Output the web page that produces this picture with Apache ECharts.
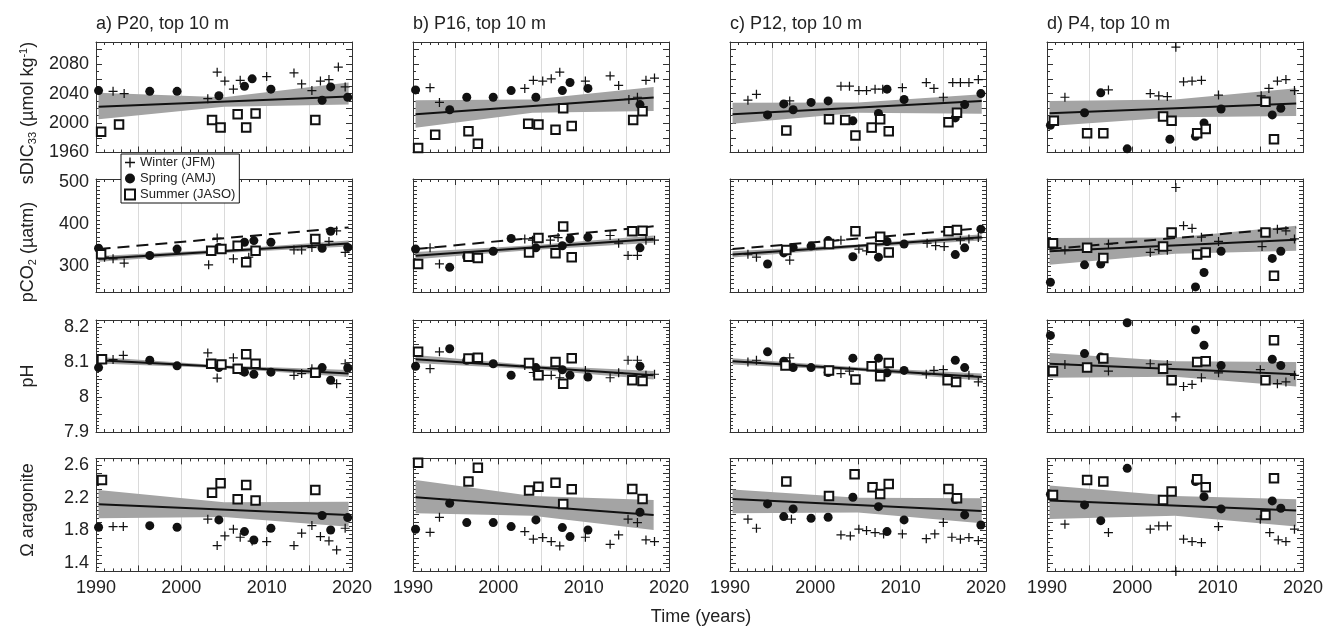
<!DOCTYPE html>
<html><head><meta charset="utf-8">
<script src="https://cdn.jsdelivr.net/npm/echarts@6/dist/echarts.min.js"></script>
<style>html,body{margin:0;padding:0;background:#fff}#c{width:1338px;height:633px}</style>
</head><body><div id="c"></div><script>
// ---------- DATA: [year, value] ----------
// Panel a) P20
const a_dic_winter=[[1992.0,2043],[1993.3,2040],[2003.1,2033],[2004.2,2069],[2005.1,2057],[2006.1,2046],[2006.9,2058],[2010.0,2063],[2013.2,2068],[2014.1,2053],[2015.3,2044],[2016.3,2057],[2017.3,2059],[2018.4,2076],[2019.2,2049]];
const a_dic_spring=[[1990.3,2044],[1996.3,2043],[1999.5,2043],[2004.4,2037],[2007.4,2050],[2008.3,2060],[2010.5,2046],[2016.5,2031],[2017.5,2049],[2019.5,2035]];
const a_dic_summer=[[1990.6,1988],[1992.7,1998],[2003.6,2004],[2004.6,1994],[2006.6,2012],[2007.6,1994],[2008.7,2013],[2015.7,2004]];
const a_pco2_winter=[[1991.0,322],[1992.0,318],[1993.3,308],[2003.2,304],[2004.2,367],[2006.1,318],[2007.9,322],[2013.2,339],[2014.1,339],[2015.3,345],[2017.3,359],[2018.2,384],[2019.2,333]];
const a_pco2_spring=[[1990.3,343],[1996.3,326],[1999.5,341],[2004.4,345],[2007.4,357],[2008.5,361],[2010.5,357],[2016.5,343],[2017.5,383],[2019.5,345]];
const a_pco2_summer=[[1990.6,329],[2003.5,337],[2004.7,341],[2006.6,349],[2007.6,310],[2008.7,337],[2015.7,365]];
const a_ph_winter=[[1992.0,8.107],[1993.2,8.119],[2003.1,8.126],[2004.2,8.054],[2006.1,8.112],[2006.9,8.076],[2013.2,8.062],[2014.1,8.067],[2015.3,8.081],[2016.3,8.07],[2018.2,8.038],[2019.2,8.095]];
const a_ph_spring=[[1990.3,8.084],[1996.3,8.105],[1999.5,8.089],[2004.4,8.084],[2007.4,8.071],[2008.5,8.065],[2010.5,8.071],[2016.5,8.084],[2017.5,8.048],[2019.5,8.083]];
const a_ph_summer=[[1990.7,8.108],[2003.5,8.095],[2004.7,8.093],[2006.6,8.081],[2007.6,8.122],[2008.7,8.095],[2015.7,8.069]];
const a_om_winter=[[1992.0,1.847],[1993.2,1.847],[2003.1,1.937],[2004.2,1.615],[2005.1,1.733],[2006.1,1.815],[2006.9,1.717],[2008.3,1.67],[2010.0,1.664],[2013.2,1.615],[2014.1,1.766],[2015.3,1.86],[2016.3,1.725],[2017.3,1.672],[2018.2,1.562],[2019.2,1.827]];
const a_om_spring=[[1990.3,1.839],[1996.3,1.859],[1999.5,1.839],[2004.4,1.929],[2007.4,1.786],[2008.5,1.684],[2010.5,1.827],[2016.5,1.982],[2017.5,1.806],[2019.5,1.957]];
const a_om_summer=[[1990.7,2.417],[2003.6,2.262],[2004.6,2.376],[2006.6,2.181],[2007.6,2.356],[2008.7,2.165],[2015.7,2.295]];
const a_dic_trend=[[1990.3,2022],[2019.6,2036]];
const a_dic_band=[[1990.3,2005,2041],[2005,2022,2035],[2019.6,2025,2055]];
const a_pco2_trend=[[1990.3,318],[2019.6,354]];
const a_pco2_band=[[1990.3,311,325],[2005,332,340],[2019.6,347,361]];
const a_pco2_atm=[[1990.3,341],[2019.6,392]];
const a_ph_trend=[[1990.3,8.105],[2019.6,8.067]];
const a_ph_band=[[1990.3,8.096,8.114],[2005,8.082,8.09],[2019.6,8.057,8.077]];
const a_om_trend=[[1990.3,2.12],[2019.6,1.99]];
const a_om_band=[[1990.3,1.95,2.295],[2005,1.965,2.145],[2019.6,1.845,2.15]];

// Panel b) P16
const b_dic_winter=[[1992.0,2048],[1993.1,2028],[2003.1,2047],[2004.1,2058],[2005.2,2057],[2006.2,2060],[2007.2,2069],[2010.2,2057],[2013.1,2064],[2014.1,2051],[2015.3,2032],[2016.3,2035],[2017.3,2058],[2018.3,2061]];
const b_dic_spring=[[1990.3,2045],[1994.3,2018],[1996.3,2035],[1999.4,2035],[2001.5,2044],[2004.4,2035],[2007.5,2044],[2008.4,2055],[2010.5,2047],[2016.6,2025]];
const b_dic_summer=[[1990.6,1966],[1992.6,1984],[1996.5,1989],[1997.6,1972],[2003.5,1999],[2004.7,1998],[2006.7,1991],[2007.6,2020],[2008.6,1996],[2015.8,2004],[2016.9,2016]];
const b_pco2_winter=[[1992.0,344],[1993.1,306],[2003.1,365],[2004.0,362],[2006.1,362],[2007.0,368],[2013.1,373],[2014.1,355],[2015.2,326],[2016.3,326],[2017.3,362],[2018.3,362]];
const b_pco2_spring=[[1990.3,341],[1994.3,298],[1996.3,323],[1999.4,336],[2001.5,366],[2004.4,344],[2007.5,349],[2008.4,365],[2010.5,369],[2016.6,344]];
const b_pco2_summer=[[1990.6,306],[1996.5,323],[1997.6,320],[2003.6,333],[2004.7,367],[2006.7,331],[2007.6,394],[2008.6,322],[2015.7,383],[2016.9,384]];
const b_ph_winter=[[1992.0,8.081],[1993.1,8.129],[2003.1,8.09],[2004.1,8.07],[2005.2,8.062],[2006.2,8.062],[2007.2,8.055],[2010.2,8.076],[2013.1,8.055],[2014.1,8.069],[2015.2,8.105],[2016.3,8.105],[2017.3,8.062],[2018.3,8.065]];
const b_ph_spring=[[1990.3,8.088],[1994.3,8.138],[1996.3,8.105],[1999.4,8.095],[2001.5,8.062],[2004.4,8.084],[2007.5,8.078],[2008.4,8.062],[2010.5,8.057],[2016.6,8.088]];
const b_ph_summer=[[1990.6,8.129],[1996.5,8.11],[1997.6,8.112],[2003.6,8.097],[2004.7,8.062],[2006.7,8.1],[2007.6,8.038],[2008.6,8.111],[2015.7,8.048],[2016.9,8.046]];
const b_om_winter=[[1992.0,1.778],[1993.1,1.961],[2003.1,1.786],[2004.1,1.693],[2005.2,1.713],[2006.2,1.664],[2007.2,1.611],[2010.2,1.717],[2013.1,1.631],[2014.1,1.745],[2015.2,1.937],[2016.3,1.896],[2017.3,1.684],[2018.3,1.664]];
const b_om_spring=[[1990.3,1.815],[1994.3,2.132],[1996.3,1.896],[1999.4,1.896],[2001.5,1.847],[2004.4,1.929],[2007.5,1.835],[2008.4,1.725],[2010.5,1.806],[2016.6,2.022]];
const b_om_summer=[[1990.6,2.628],[1996.5,2.397],[1997.6,2.567],[2003.6,2.287],[2004.7,2.335],[2006.7,2.384],[2007.6,2.124],[2008.6,2.303],[2015.7,2.307],[2016.9,2.185]];
const b_dic_trend=[[1990.3,2011.8],[2018.2,2034.5]];
const b_dic_band=[[1990.3,1993.6,2031],[2004,2014,2032],[2018.2,2016.4,2049]];
const b_pco2_trend=[[1990.3,325.5],[2018.2,364.7]];
const b_pco2_band=[[1990.3,317,334],[2004,339,350],[2018.2,356,373]];
const b_pco2_atm=[[1990.3,341],[2018.2,394.5]];
const b_ph_trend=[[1990.3,8.108],[2018.2,8.062]];
const b_ph_band=[[1990.3,8.097,8.12],[2004,8.079,8.091],[2018.2,8.05,8.074]];
const b_om_trend=[[1990.3,2.205],[2018.2,1.99]];
const b_om_band=[[1990.3,2.01,2.417],[2004,1.98,2.22],[2018.2,1.806,2.173]];

// Panel c) P12
const c_dic_winter=[[1992.1,2031],[1993.1,2039],[1997.0,2030],[2003.0,2050],[2004.0,2050],[2005.1,2044],[2006.0,2044],[2007.0,2046],[2007.9,2046],[2010.2,2048],[2013.0,2055],[2013.9,2047],[2015.0,2035],[2016.1,2055],[2017.0,2055],[2018.0,2055],[2019.1,2059]];
const c_dic_spring=[[1994.4,2011],[1996.3,2026],[1997.4,2018],[1999.5,2028],[2001.5,2030],[2004.4,2003],[2007.4,2013],[2008.4,2046],[2010.4,2032],[2016.4,2007],[2017.5,2025],[2019.4,2040]];
const c_dic_summer=[[1996.6,1990],[2001.6,2005],[2003.5,2004],[2004.7,1983],[2006.6,1994],[2007.6,2005],[2008.6,1989],[2015.6,2001],[2016.6,2014]];
const c_pco2_winter=[[1992.1,329],[1993.1,322],[1997.0,315],[2003.0,362],[2005.1,341],[2006.0,337],[2013.1,355],[2014.1,349],[2015.1,347],[2017.0,362],[2018.0,365],[2019.1,368]];
const c_pco2_spring=[[1994.4,306],[1996.3,332],[1997.4,345],[1999.5,348],[2001.5,361],[2004.4,323],[2007.4,322],[2008.4,359],[2010.4,353],[2016.4,328],[2017.5,344],[2019.4,388]];
const c_pco2_summer=[[1996.6,339],[2001.6,353],[2004.7,383],[2006.6,344],[2007.6,370],[2008.6,333],[2015.6,383],[2016.6,386]];
const c_ph_winter=[[1992.1,8.1],[1993.1,8.105],[1997.0,8.112],[2003.0,8.067],[2004.0,8.074],[2013.0,8.065],[2013.9,8.076],[2015.0,8.078],[2018.0,8.062],[2019.1,8.043]];
const c_ph_spring=[[1994.4,8.129],[1996.3,8.102],[1997.4,8.084],[1999.5,8.084],[2001.5,8.07],[2004.4,8.111],[2007.4,8.111],[2008.4,8.069],[2010.4,8.076],[2016.4,8.105],[2017.5,8.084]];
const c_ph_summer=[[1996.5,8.09],[2001.6,8.076],[2004.7,8.05],[2006.6,8.088],[2007.6,8.059],[2008.6,8.097],[2015.5,8.048],[2016.5,8.043]];
const c_om_winter=[[1992.1,1.937],[1993.1,1.827],[1997.2,1.937],[2003.0,1.745],[2004.1,1.733],[2005.1,1.815],[2006.0,1.798],[2007.0,1.774],[2008.0,1.758],[2010.2,1.758],[2013.0,1.7],[2014.0,1.758],[2015.0,1.898],[2016.0,1.717],[2017.0,1.693],[2018.0,1.713],[2019.1,1.676]];
const c_om_spring=[[1994.4,2.124],[1996.3,1.969],[1997.4,2.063],[1999.5,1.949],[2001.5,1.961],[2004.4,2.205],[2007.4,2.091],[2008.4,1.786],[2010.4,1.929],[2016.4,2.177],[2017.5,1.99],[2019.4,1.867]];
const c_om_summer=[[1996.6,2.397],[2001.6,2.222],[2004.6,2.486],[2006.7,2.327],[2007.6,2.246],[2008.6,2.368],[2015.6,2.307],[2016.6,2.193]];
const c_dic_trend=[[1990.3,2011.8],[2019.5,2030]];
const c_dic_band=[[1990.3,1999,2027.7],[2005,2014,2028],[2019.5,2012.7,2039]];
const c_pco2_trend=[[1990.3,328],[2019.5,368.6]];
const c_pco2_band=[[1990.3,321,336],[2005,344,352],[2019.5,361,376]];
const c_pco2_atm=[[1990.3,341],[2019.5,390]];
const c_ph_trend=[[1990.3,8.102],[2019.5,8.057]];
const c_ph_band=[[1990.3,8.093,8.111],[2005,8.075,8.085],[2019.5,8.047,8.067]];
const c_om_trend=[[1990.3,2.185],[2019.5,2.038]];
const c_om_band=[[1990.3,2.01,2.30],[2005,2.02,2.2],[2019.5,1.888,2.193]];

// Panel d) P4
const d_dic_winter=[[1992.1,2035],[1997.2,2045],[2002.1,2040],[2003.1,2037],[2004.1,2036],[2005.1,2103],[2006.0,2056],[2007.0,2057],[2008.1,2058],[2010.1,2038],[2015.1,2037],[2016.0,2047],[2017.0,2057],[2018.0,2059],[2019.0,2044]];
const d_dic_spring=[[1990.4,1997],[1994.4,2014],[1996.3,2041],[1999.4,1965],[2004.4,1978],[2007.4,1982],[2008.4,2000],[2010.4,2019],[2016.4,2011],[2017.4,2020]];
const d_dic_summer=[[1990.8,2003],[1994.7,1986],[1996.6,1986],[2003.6,2009],[2004.6,2003],[2007.6,1986],[2008.6,1992],[2015.6,2029],[2016.6,1978]];
const d_pco2_winter=[[1992.1,339],[1997.2,353],[2002.1,333],[2003.1,340],[2004.1,338],[2005.1,486],[2006.0,396],[2007.0,390],[2008.1,369],[2010.1,359],[2015.2,347],[2017.0,388],[2018.0,384],[2019.0,365]];
const d_pco2_spring=[[1990.4,263],[1994.4,304],[1996.3,306],[1999.4,238],[2007.4,252],[2008.4,286],[2010.4,336],[2016.4,319],[2017.4,336]];
const d_pco2_summer=[[1990.7,355],[1994.7,344],[1996.6,320],[2003.6,347],[2004.6,380],[2007.6,328],[2008.6,333],[2015.6,380],[2016.6,278]];
const d_ph_winter=[[1992.1,8.093],[1997.2,8.074],[2002.1,8.095],[2004.1,8.093],[2005.1,7.943],[2006.0,8.03],[2007.0,8.036],[2008.1,8.055],[2010.1,8.069],[2015.0,8.078],[2017.0,8.038],[2018.0,8.043],[2019.0,8.062]];
const d_ph_spring=[[1990.4,8.176],[1994.4,8.124],[1996.3,8.114],[1999.4,8.212],[2007.4,8.192],[2008.4,8.148],[2010.4,8.09],[2016.4,8.108],[2017.4,8.09]];
const d_ph_summer=[[1990.7,8.074],[1994.7,8.084],[1996.6,8.11],[2003.6,8.081],[2004.6,8.048],[2007.6,8.1],[2008.6,8.102],[2015.6,8.048],[2016.6,8.162]];
const d_om_winter=[[1992.1,1.876],[1997.2,1.774],[2002.1,1.815],[2003.1,1.855],[2004.1,1.855],[2005.1,1.30],[2006.0,1.693],[2007.0,1.664],[2008.1,1.652],[2010.1,1.847],[2015.0,1.937],[2016.1,1.774],[2017.1,1.684],[2018.0,1.664],[2019.0,1.815]];
const d_om_spring=[[1990.4,2.242],[1994.4,2.112],[1996.3,1.92],[1999.4,2.559],[2007.4,2.397],[2008.4,2.213],[2010.4,2.063],[2016.4,2.161],[2017.4,2.071]];
const d_om_summer=[[1990.7,2.234],[1994.7,2.417],[1996.6,2.397],[2003.6,2.173],[2004.6,2.275],[2007.6,2.425],[2008.6,2.327],[2015.6,1.99],[2016.6,2.437]];
const d_dic_trend=[[1990.3,2013.2],[2019.2,2026.4]];
const d_dic_band=[[1990.3,1996,2030],[2005,2008,2032],[2019.2,2009.5,2047.3]];
const d_pco2_trend=[[1990.3,335.7],[2019.2,363]];
const d_pco2_band=[[1990.3,304,367],[2005,330,368],[2019.2,337,396]];
const d_pco2_atm=[[1990.3,341],[2019.2,392]];
const d_ph_trend=[[1990.3,8.095],[2019.2,8.065]];
const d_ph_band=[[1990.3,8.055,8.126],[2005,8.058,8.102],[2019.2,8.03,8.1]];
const d_om_trend=[[1990.3,2.165],[2019.2,2.043]];
const d_om_band=[[1990.3,1.94,2.348],[2005,1.98,2.22],[2019.2,1.847,2.18]];

const panelTitles=['a) P20, top 10 m','b) P16, top 10 m','c) P12, top 10 m','d) P4, top 10 m'];
const seasonNames=['Winter (JFM)','Spring (AMJ)','Summer (JASO)'];
const xTickLabels=[1990,2000,2010,2020];

// ---------- assemble ----------
const panels=[
 {dic:[a_dic_winter,a_dic_spring,a_dic_summer,a_dic_trend,a_dic_band],pco2:[a_pco2_winter,a_pco2_spring,a_pco2_summer,a_pco2_trend,a_pco2_band,a_pco2_atm],ph:[a_ph_winter,a_ph_spring,a_ph_summer,a_ph_trend,a_ph_band],om:[a_om_winter,a_om_spring,a_om_summer,a_om_trend,a_om_band]},
 {dic:[b_dic_winter,b_dic_spring,b_dic_summer,b_dic_trend,b_dic_band],pco2:[b_pco2_winter,b_pco2_spring,b_pco2_summer,b_pco2_trend,b_pco2_band,b_pco2_atm],ph:[b_ph_winter,b_ph_spring,b_ph_summer,b_ph_trend,b_ph_band],om:[b_om_winter,b_om_spring,b_om_summer,b_om_trend,b_om_band]},
 {dic:[c_dic_winter,c_dic_spring,c_dic_summer,c_dic_trend,c_dic_band],pco2:[c_pco2_winter,c_pco2_spring,c_pco2_summer,c_pco2_trend,c_pco2_band,c_pco2_atm],ph:[c_ph_winter,c_ph_spring,c_ph_summer,c_ph_trend,c_ph_band],om:[c_om_winter,c_om_spring,c_om_summer,c_om_trend,c_om_band]},
 {dic:[d_dic_winter,d_dic_spring,d_dic_summer,d_dic_trend,d_dic_band],pco2:[d_pco2_winter,d_pco2_spring,d_pco2_summer,d_pco2_trend,d_pco2_band,d_pco2_atm],ph:[d_ph_winter,d_ph_spring,d_ph_summer,d_ph_trend,d_ph_band],om:[d_om_winter,d_om_spring,d_om_summer,d_om_trend,d_om_band]}
];
const rowKeys=['dic','pco2','ph','om'];

const FONT='"Liberation Sans", Arial, sans-serif';
const TXT='#222', AX='#333';
const colLeft=[96,413,730,1047], colW=256;
const rowTop=[42,179,320,458.4], rowH=[110.5,113,112,113];
const near=(v,s)=>Math.abs(v/s-Math.round(v/s))<1e-6;
const yCfg=[
 {min:1960,max:2110,interval:20,minor:2,fmt:v=>near(v,40)?String(v):''},
 {min:240,max:506,interval:10,minor:0,fmt:v=>near(v,100)?String(v):''},
 {min:7.9,max:8.22,interval:0.05,minor:5,fmt:v=>near(v,0.1)?String(Math.round(v*10)/10):''},
 {min:1.3,max:2.68,interval:0.1,minor:2,fmt:v=>near(v-1.4,0.4)?(Math.round(v*10)/10).toFixed(1):''}
];
const PLUS='path://M3.45,0H4.55V3.45H8V4.55H4.55V8H3.45V4.55H0V3.45H3.45Z';

const grids=[],xAxes=[],yAxes=[],series=[];
for(let r=0;r<4;r++){for(let p=0;p<4;p++){
 const g=r*4+p, yc=yCfg[r];
 grids.push({left:colLeft[p],top:rowTop[r],width:colW,height:rowH[r],containLabel:false});
 const xBase={type:'value',gridIndex:g,min:1990,max:2020,interval:5,
   axisLine:{show:true,onZero:false,lineStyle:{color:AX,width:1}},
   axisTick:{show:true,inside:true,length:6,lineStyle:{color:AX,width:1}},
   minorTick:{show:true,splitNumber:5,length:3,lineStyle:{color:AX,width:1}}};
 xAxes.push(Object.assign({},xBase,{position:'bottom',
   splitLine:{show:true,lineStyle:{color:'#dadada',width:1}},
   axisLabel:{show:r===3,fontSize:18,color:TXT,fontFamily:FONT,margin:8,
     formatter:v=>xTickLabels.indexOf(Math.round(v))>=0&&near(v,10)?String(Math.round(v)):''}}));
 xAxes.push(Object.assign({},xBase,{position:'top',splitLine:{show:false},axisLabel:{show:false}}));
 const yBase={type:'value',gridIndex:g,min:yc.min,max:yc.max,interval:yc.interval,
   axisLine:{show:true,onZero:false,lineStyle:{color:AX,width:1}},
   axisTick:{show:true,inside:true,length:yc.minor?6:4,lineStyle:{color:AX,width:1}},
   minorTick:{show:yc.minor>0,splitNumber:yc.minor||1,length:3,lineStyle:{color:AX,width:1}},
   splitLine:{show:false}};
 yAxes.push(Object.assign({},yBase,{position:'left',
   axisLabel:{show:p===0,fontSize:18,color:TXT,fontFamily:FONT,margin:7,formatter:yc.fmt,showMaxLabel:false}}));
 yAxes.push(Object.assign({},yBase,{position:'right',axisLabel:{show:false}}));

 const d=panels[p][rowKeys[r]];
 const xi=2*g, yi=2*g;
 const band=d[4];
 series.push({type:'custom',xAxisIndex:xi,yAxisIndex:yi,data:band,silent:true,z:1,clip:false,
   renderItem:(params,api)=>{
     if(params.dataIndex!==0) return;
     const lo=band.map(b=>api.coord([b[0],b[1]]));
     const hi=band.map(b=>api.coord([b[0],b[2]])).reverse();
     return {type:'polygon',shape:{points:lo.concat(hi)},style:{fill:'#a4a4a4'}};
   }});
 series.push({type:'line',xAxisIndex:xi,yAxisIndex:yi,data:d[3],symbol:'none',silent:true,z:3,
   lineStyle:{color:'#111',width:2},emphasis:{disabled:true}});
 if(d[5]) series.push({type:'line',xAxisIndex:xi,yAxisIndex:yi,data:d[5],symbol:'none',silent:true,z:3,
   lineStyle:{color:'#111',width:2,type:[12,7]},emphasis:{disabled:true}});
 series.push({type:'scatter',name:seasonNames[0],xAxisIndex:xi,yAxisIndex:yi,data:d[0],symbol:PLUS,symbolSize:9,
   itemStyle:{color:'#111',opacity:1},z:5,emphasis:{disabled:true}});
 series.push({type:'scatter',name:seasonNames[1],xAxisIndex:xi,yAxisIndex:yi,data:d[1],symbol:'circle',symbolSize:9,
   itemStyle:{color:'#111',opacity:1},z:5,emphasis:{disabled:true}});
 series.push({type:'scatter',name:seasonNames[2],xAxisIndex:xi,yAxisIndex:yi,data:d[2],symbol:'rect',symbolSize:8.5,
   itemStyle:{color:'#fff',borderColor:'#111',borderWidth:2,opacity:1},z:6,emphasis:{disabled:true}});
}}

const textStyleBase={fontSize:18,fontFamily:FONT,fill:TXT};
const graphics=[];
panelTitles.forEach((t,i)=>graphics.push({type:'text',x:colLeft[i],y:24,style:Object.assign({text:t,align:'left',verticalAlign:'middle'},textStyleBase)}));
const richSS={sub:{fontSize:11,lineHeight:11,verticalAlign:'bottom',fill:TXT,fontFamily:FONT},sup:{fontSize:11,lineHeight:11,verticalAlign:'top',fill:TXT,fontFamily:FONT}};
const yNames=[
 {t:'sDIC{sub|33} (µmol kg{sup|-1})',y:113},
 {t:'pCO{sub|2} (µatm)',y:252},
 {t:'pH',y:376},
 {t:'Ω aragonite',y:510}
];
yNames.forEach(n=>graphics.push({type:'text',x:28,y:n.y,rotation:Math.PI/2,
  style:Object.assign({text:n.t,align:'center',verticalAlign:'middle',lineHeight:20,rich:richSS},textStyleBase)}));
graphics.push({type:'text',x:701,y:617,style:Object.assign({text:'Time (years)',align:'center',verticalAlign:'middle'},textStyleBase)});

const chart=echarts.init(document.getElementById('c'),null,{renderer:'canvas'});
chart.setOption({
 animation:false,
 backgroundColor:'#fff',
 grid:grids,xAxis:xAxes,yAxis:yAxes,series:series,
 graphic:graphics,
 legend:{data:seasonNames,orient:'vertical',left:121,top:154,itemWidth:10,itemHeight:10,itemGap:3,
   padding:[2,4,2,3],borderColor:'#111',borderWidth:1,backgroundColor:'#fff',z:10,selectedMode:false,
   textStyle:{fontSize:13,fontFamily:FONT,color:TXT}}
});
</script></body></html>
